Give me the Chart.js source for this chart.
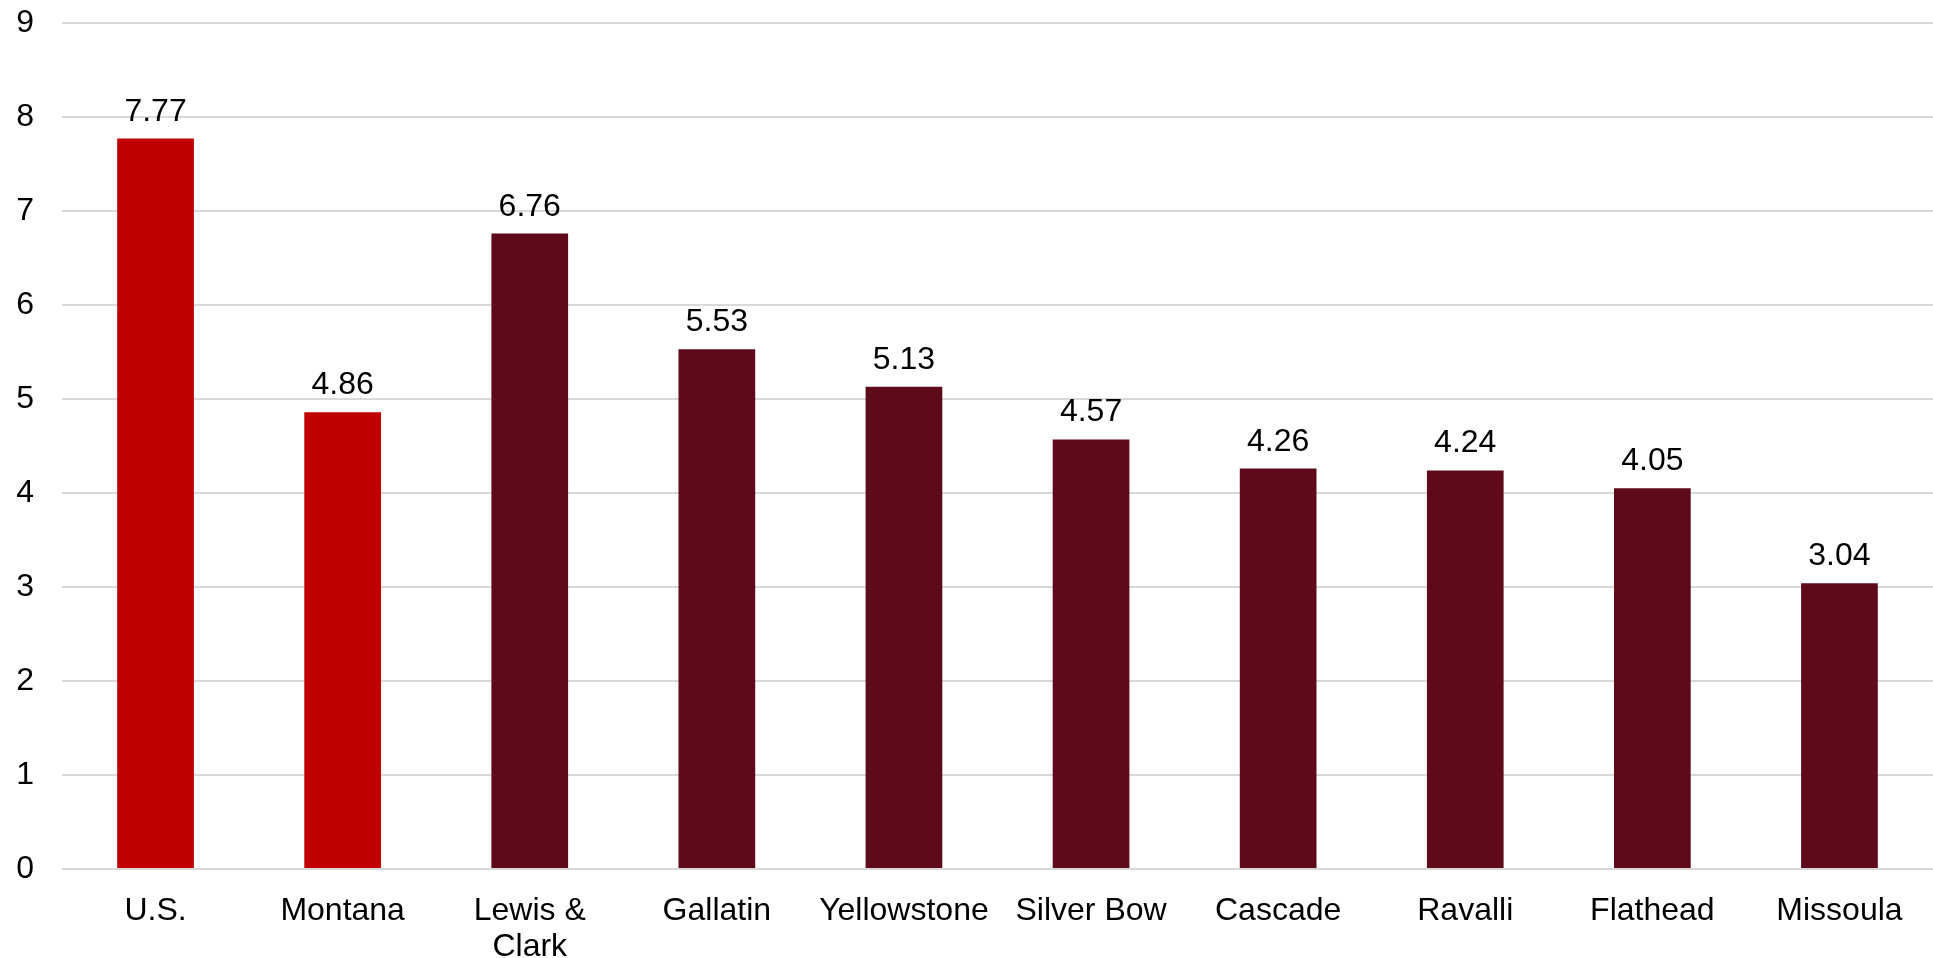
<!DOCTYPE html>
<html>
<head>
<meta charset="utf-8">
<script src="https://cdn.jsdelivr.net/npm/chart.js@4/dist/chart.umd.min.js"></script>
<style>
  html, body { margin: 0; padding: 0; background: #fff; }
  #wrap { width: 1933px; height: 958px; }
</style>
</head>
<body>
<div id="wrap"><canvas id="myChart" width="1933" height="958"></canvas></div>
<script>
const labels = ['U.S.', 'Montana', ['Lewis &', 'Clark'], 'Gallatin', 'Yellowstone',
                'Silver Bow', 'Cascade', 'Ravalli', 'Flathead', 'Missoula'];
const values = [7.77, 4.86, 6.76, 5.53, 5.13, 4.57, 4.26, 4.24, 4.05, 3.04];
const barColors = ['#c00000', '#c00000', '#5e0a1b', '#5e0a1b', '#5e0a1b',
                   '#5e0a1b', '#5e0a1b', '#5e0a1b', '#5e0a1b', '#5e0a1b'];

const FONT = '"Liberation Sans", Arial, sans-serif';

// value labels above each bar
const valueLabels = {
    id: 'valueLabels',
    afterDatasetsDraw(chart) {
        const ctx = chart.ctx;
        const meta = chart.getDatasetMeta(0);
        ctx.save();
        ctx.font = '32px ' + FONT;
        ctx.fillStyle = '#000';
        ctx.textAlign = 'center';
        ctx.textBaseline = 'alphabetic';
        meta.data.forEach((bar, i) => {
            ctx.fillText(values[i].toFixed(2), bar.x, bar.y - 18);
        });
        ctx.restore();
    }
};

const ctx = document.getElementById('myChart').getContext('2d');

let chart = new Chart(ctx, {
    type: 'bar',
    data: {
        labels: labels,
        datasets: [{
            data: values,
            backgroundColor: barColors,
            borderWidth: 0,
            categoryPercentage: 1.0,
            barPercentage: 0.41
        }]
    },
    options: {
        responsive: false,
        animation: false,
        layout: { padding: 0 },
        plugins: {
            legend: { display: false },
            tooltip: { enabled: false }
        },
        scales: {
            x: {
                grid: { display: false, drawTicks: false },
                border: { display: false },
                ticks: {
                    color: '#000',
                    padding: 24,
                    maxRotation: 0,
                    autoSkip: false,
                    font: { family: FONT, size: 32, lineHeight: 1.12 }
                },
                afterFit(scale) { scale.height = 89; }
            },
            y: {
                min: 0,
                max: 9,
                grid: { color: '#d9d9d9', lineWidth: 2, drawTicks: false },
                border: { display: false },
                ticks: {
                    stepSize: 1,
                    color: '#000',
                    padding: 28,
                    font: { family: FONT, size: 32 }
                },
                afterFit(scale) {
                    scale.width = 62;
                    scale.paddingTop = 23;
                    scale.paddingBottom = 0;
                }
            }
        }
    },
    plugins: [valueLabels]
});
</script>
</body>
</html>
